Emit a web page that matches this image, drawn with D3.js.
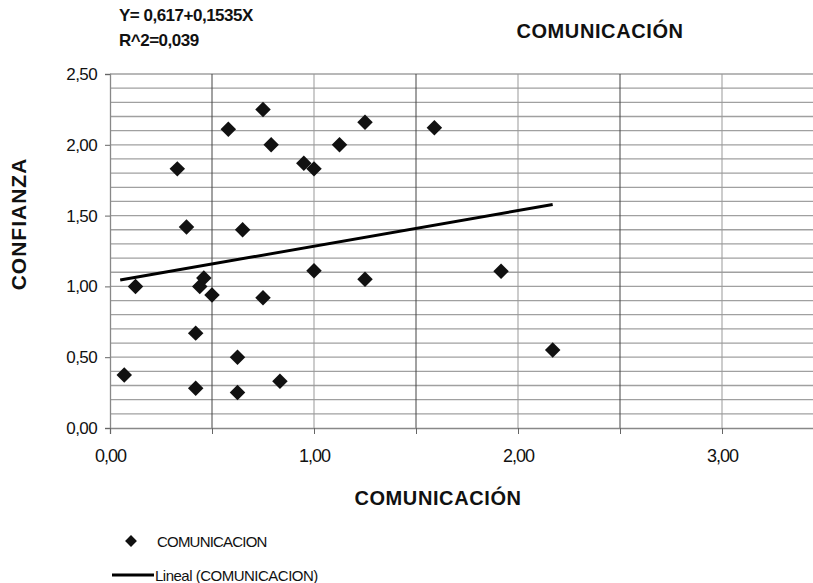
<!DOCTYPE html>
<html><head><meta charset="utf-8">
<script src="https://cdn.jsdelivr.net/npm/d3@7"></script>
<style>
body{margin:0;background:#fff;}
text{font-family:"Liberation Sans",Arial,sans-serif;fill:#111;}
</style></head>
<body>
<svg id="c" width="813" height="583"></svg>
<script>
const commX = [0.07,0.125,0.33,0.375,0.42,0.42,0.44,0.46,0.5,0.58,0.625,0.625,0.65,0.75,0.75,0.79,0.833,0.95,1.0,1.0,1.125,1.25,1.25,1.59,1.917,2.17];
const confY = [0.375,1.0,1.83,1.42,0.67,0.28,1.0,1.06,0.94,2.11,0.5,0.25,1.40,2.25,0.92,2.0,0.33,1.87,1.83,1.11,2.0,2.16,1.05,2.12,1.107,0.55];
const trendIntercept = 1.032;
const trendSlope = 0.252;
const xTickLabels = ["0,00","1,00","2,00","3,00"];
const yTickLabels = ["0,00","0,50","1,00","1,50","2,00","2,50"];
const equationText = "Y= 0,617+0,1535X";
const r2Text = "R^2=0,039";
const titleText = "COMUNICACIÓN";
const xLabel = "COMUNICACIÓN";
const yLabel = "CONFIANZA";
const legendSeries = "COMUNICACION";
const legendTrend = "Lineal (COMUNICACION)";

const svg = d3.select("#c");
const L = 110, T = 74, B = 428;
const x = d3.scaleLinear().domain([0,3.5]).range([L, L + 204*3.5]);
const y = d3.scaleLinear().domain([0,2.5]).range([B, T]);

// horizontal gridlines every 0.1
const hg = d3.range(1,26).map(i => i/10);
svg.append("g").selectAll("line").data(hg).join("line")
  .attr("x1", L).attr("x2", x(3.5)).attr("y1", d=>y(d)).attr("y2", d=>y(d))
  .attr("stroke", "#a0a0a0").attr("stroke-width", 1.3);
// vertical gridlines every 0.5
const vg = d3.range(1,8).map(i => i*0.5);
svg.append("g").selectAll("line").data(vg).join("line")
  .attr("x1", d=>x(d)).attr("x2", d=>x(d)).attr("y1", T).attr("y2", B)
  .attr("stroke", d => (Math.round(d*2)%2===1) ? "#444" : "#999")
  .attr("stroke-width", 1);

// axes
const yAxis = d3.axisLeft(y).tickValues([0,0.5,1,1.5,2,2.5]).tickSize(5).tickPadding(8)
  .tickFormat((d,i)=>yTickLabels[i]);
const gy = svg.append("g").attr("transform",`translate(${L},0)`).call(yAxis);
const xAxis = d3.axisBottom(x).tickValues([0,0.5,1,1.5,2,2.5,3,3.5]).tickSize(6).tickPadding(10)
  .tickFormat(d => Number.isInteger(d) ? xTickLabels[d] : "");
const gx = svg.append("g").attr("transform",`translate(0,${B})`).call(xAxis);
[gx,gy].forEach(g=>{
  g.select(".domain").attr("stroke","#888").attr("stroke-width",1.3);
  g.selectAll(".tick line").attr("stroke","#666");
  g.selectAll("text").style("font-family","'Liberation Sans',Arial,sans-serif").attr("fill","#111");
});
gy.selectAll("text").style("font-size","17px").style("letter-spacing","-0.6px");
gx.selectAll("text").style("font-size","18px").style("letter-spacing","-1px").attr("y",34).attr("dy","0");

// trend line
const xmin = d3.min(commX), xmax = d3.max(commX);
svg.append("line")
  .attr("x1", x(xmin - 0.02)).attr("y1", y(trendIntercept + trendSlope*(xmin-0.02)))
  .attr("x2", x(xmax)).attr("y2", y(trendIntercept + trendSlope*xmax))
  .attr("stroke","#000").attr("stroke-width",3);

// points
const sym = d3.symbol().type(d3.symbolSquare).size(120);
svg.append("g").selectAll("path").data(commX.map((v,i)=>[v,confY[i]])).join("path")
  .attr("d", sym)
  .attr("transform", d=>`translate(${x(d[0])},${y(d[1])}) rotate(45)`)
  .attr("fill","#111");

// texts
svg.append("text").attr("x",119).attr("y",21).style("font-size","17px").style("font-weight","bold").style("letter-spacing","-0.5px").text(equationText);
svg.append("text").attr("x",119).attr("y",46).style("font-size","17px").style("font-weight","bold").style("letter-spacing","-0.5px").text(r2Text);
svg.append("text").attr("x",600).attr("y",38).attr("text-anchor","middle").style("font-size","20px").style("font-weight","bold").style("letter-spacing","0.6px").text(titleText);
svg.append("text").attr("x",438).attr("y",505).attr("text-anchor","middle").style("font-size","20px").style("font-weight","bold").style("letter-spacing","0.6px").text(xLabel);
svg.append("text").attr("transform","translate(26,224) rotate(-90)").attr("text-anchor","middle").style("font-size","21px").style("font-weight","bold").style("letter-spacing","1px").text(yLabel);

// legend
svg.append("path").attr("d", d3.symbol().type(d3.symbolSquare).size(70)())
  .attr("transform","translate(131,541) rotate(45)").attr("fill","#111");
svg.append("text").attr("x",157).attr("y",547).style("font-size","15px").style("letter-spacing","-0.8px").text(legendSeries);
svg.append("line").attr("x1",112).attr("x2",154).attr("y1",575).attr("y2",575).attr("stroke","#000").attr("stroke-width",3);
svg.append("text").attr("x",155).attr("y",581).style("font-size","15px").style("letter-spacing","-0.5px").text(legendTrend);
</script>
</body></html>
